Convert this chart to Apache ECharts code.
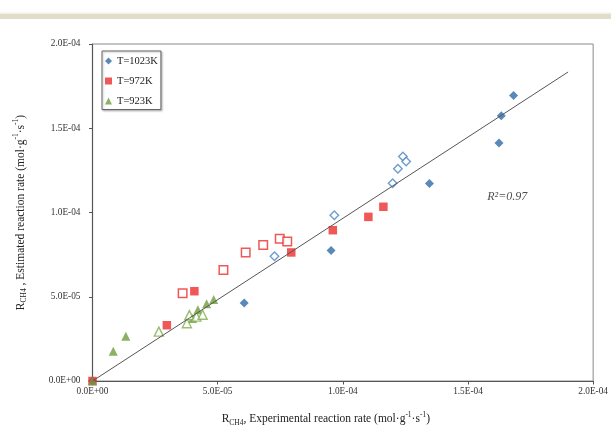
<!DOCTYPE html>
<html>
<head>
<meta charset="utf-8">
<title>Estimated vs experimental CH4 reaction rate</title>
<script src="https://cdn.jsdelivr.net/npm/echarts@6/dist/echarts.min.js"></script>
<style>
  html, body { margin: 0; padding: 0; background: #ffffff; }
  #chart { width: 611px; height: 432px; }
</style>
</head>
<body>
<div id="chart"></div>
<script>
// Experimental (x) vs estimated (y) rate, mol·g-1·s-1
const seriesNames = ['T=1023K', 'T=972K', 'T=923K'];

const t1023Filled = [[0, 0], [6.06e-5, 4.63e-5], [9.53e-5, 7.75e-5], [1.346e-4, 1.172e-4],
  [1.624e-4, 1.412e-4], [1.633e-4, 1.574e-4], [1.682e-4, 1.694e-4]];
const t1023Open = [[7.27e-5, 7.40e-5], [9.66e-5, 9.84e-5], [1.199e-4, 1.173e-4],
  [1.220e-4, 1.259e-4], [1.240e-4, 1.333e-4], [1.253e-4, 1.302e-4]];

const t972Filled = [[0, 0], [2.97e-5, 3.31e-5], [4.07e-5, 5.33e-5], [7.94e-5, 7.63e-5],
  [9.60e-5, 8.95e-5], [1.102e-4, 9.74e-5], [1.162e-4, 1.034e-4]];
const t972Open = [[3.60e-5, 5.21e-5], [5.23e-5, 6.59e-5], [6.12e-5, 7.62e-5],
  [6.82e-5, 8.07e-5], [7.48e-5, 8.44e-5], [7.78e-5, 8.28e-5]];

const t923Filled = [[0, 0], [8.3e-6, 1.76e-5], [1.33e-5, 2.66e-5], [4.00e-5, 3.71e-5],
  [4.21e-5, 4.23e-5], [4.56e-5, 4.59e-5], [4.84e-5, 4.83e-5]];
const t923Open = [[2.65e-5, 2.93e-5], [3.77e-5, 3.43e-5], [3.87e-5, 3.91e-5],
  [4.15e-5, 3.82e-5], [4.40e-5, 3.93e-5]];

// parity fit line through the origin
const fitLine = [[0, 0], [1.9e-4, 1.834e-4]];
const fitLabel = 'R²=0.97';
const fitLabelAt = [[1.657e-4, 1.095e-4]];

// axis range shared by both axes
const axisMin = 0;
const axisMax = 2.0e-4;
const axisStep = 5.0e-5;

const SERIF = '"Liberation Serif", "Times New Roman", serif';
const BLUE = '#2f6ca8';
const RED = '#ec2d2d';
const GREEN = '#6e9e3e';

function sci(v) {
  if (Math.abs(v) < 1e-20) return '0.0E+00';
  let e = Math.floor(Math.log10(Math.abs(v)) + 1e-9);
  let m = v / Math.pow(10, e);
  if (Math.round(m * 10) >= 100) { e += 1; m = v / Math.pow(10, e); }
  const sign = e < 0 ? '-' : '+';
  const ee = String(Math.abs(e)).padStart(2, '0');
  return m.toFixed(1) + 'E' + sign + ee;
}

const nameRich = {
  b: { fontFamily: SERIF, fontSize: 11.5, color: '#222', lineHeight: 16 },
  s: { fontFamily: SERIF, fontSize: 7.5, color: '#222', verticalAlign: 'bottom' },
  p: { fontFamily: SERIF, fontSize: 7.5, color: '#222', verticalAlign: 'top' }
};

const chart = echarts.init(document.getElementById('chart'), null, { renderer: 'canvas' });

chart.setOption({
  backgroundColor: '#ffffff',
  animation: false,
  graphic: [{
    type: 'rect',
    shape: { x: 0, y: 13.5, width: 611, height: 5.5 },
    style: { fill: '#e1ddcc' },
    silent: true
  }, {
    type: 'rect',
    shape: { x: 0, y: 12.5, width: 611, height: 1 },
    style: { fill: '#f1efe8' },
    silent: true
  }],
  grid: {
    left: 92.5, right: 14, top: 44, bottom: 50,
    show: true, borderColor: '#8a8a8a', borderWidth: 1, backgroundColor: 'transparent'
  },
  legend: {
    orient: 'vertical',
    left: 102, top: 51,
    padding: [3.5, 3, 2, 3],
    itemGap: 7,
    itemWidth: 7, itemHeight: 7,
    borderColor: '#666', borderWidth: 1,
    backgroundColor: '#fff',
    shadowColor: 'rgba(0,0,0,0.25)', shadowBlur: 2, shadowOffsetX: 1, shadowOffsetY: 1,
    textStyle: { fontFamily: SERIF, fontSize: 10.5, color: '#222', lineHeight: 13 },
    data: seriesNames
  },
  xAxis: {
    type: 'value',
    min: axisMin, max: axisMax, interval: axisStep,
    name: '{b|R}{s|CH4}{b|, Experimental reaction rate (mol·g}{p|-1}{b|·s}{p|-1}{b|)}',
    nameLocation: 'middle',
    nameGap: 30,
    nameTextStyle: { rich: nameRich, padding: [0, 34, 0, 0] },
    splitLine: { show: false },
    axisLine: { show: true, onZero: false, lineStyle: { color: '#555', width: 1.2 } },
    axisTick: { show: true, length: 3.5, lineStyle: { color: '#555' } },
    axisLabel: {
      margin: 6, fontFamily: SERIF, fontSize: 9.3, color: '#333',
      formatter: v => sci(v)
    }
  },
  yAxis: {
    type: 'value',
    min: axisMin, max: axisMax, interval: axisStep,
    name: '{b|R}{s|CH4}{b| , Estimated reaction rate (mol·g}{p|-1}{b|·s}{p|-1}{b|)}',
    nameLocation: 'middle',
    nameGap: 64,
    nameTextStyle: { rich: nameRich },
    splitLine: { show: false },
    axisLine: { show: true, onZero: false, lineStyle: { color: '#555', width: 1.2 } },
    axisTick: { show: true, length: 3.5, lineStyle: { color: '#555' } },
    axisLabel: {
      margin: 12, fontFamily: SERIF, fontSize: 9.3, color: '#333',
      formatter: v => sci(v)
    }
  },
  series: [
    {
      name: seriesNames[0], type: 'scatter', symbol: 'diamond', symbolSize: 9,
      itemStyle: { color: BLUE }, data: t1023Filled, z: 3
    },
    {
      name: seriesNames[0] + ' open', type: 'scatter', symbol: 'diamond', symbolSize: 8.5,
      itemStyle: { color: '#fff', borderColor: '#4a85c6', borderWidth: 1.4 }, data: t1023Open, z: 3
    },
    {
      name: seriesNames[1], type: 'scatter', symbol: 'rect', symbolSize: 8.5,
      itemStyle: { color: RED }, data: t972Filled, z: 4
    },
    {
      name: seriesNames[1] + ' open', type: 'scatter', symbol: 'rect', symbolSize: 8.5,
      itemStyle: { color: '#fff', borderColor: RED, borderWidth: 1.5 }, data: t972Open, z: 4
    },
    {
      name: seriesNames[2], type: 'scatter', symbol: 'triangle', symbolSize: 9,
      itemStyle: { color: GREEN }, data: t923Filled, z: 5
    },
    {
      name: seriesNames[2] + ' open', type: 'scatter', symbol: 'triangle', symbolSize: 9,
      itemStyle: { color: '#fff', borderColor: '#7fae4c', borderWidth: 1.4 }, data: t923Open, z: 5
    },
    {
      name: 'fit', type: 'line', data: fitLine, showSymbol: false, symbol: 'none',
      lineStyle: { color: '#555', width: 1 }, z: 6, silent: true
    },
    {
      name: 'fit label', type: 'scatter', data: fitLabelAt, symbolSize: 1,
      itemStyle: { color: 'rgba(0,0,0,0)' }, silent: true, z: 7,
      label: {
        show: true, position: 'inside', formatter: fitLabel,
        fontFamily: SERIF, fontStyle: 'italic', fontSize: 12, color: '#222'
      }
    }
  ]
});
</script>
</body>
</html>
